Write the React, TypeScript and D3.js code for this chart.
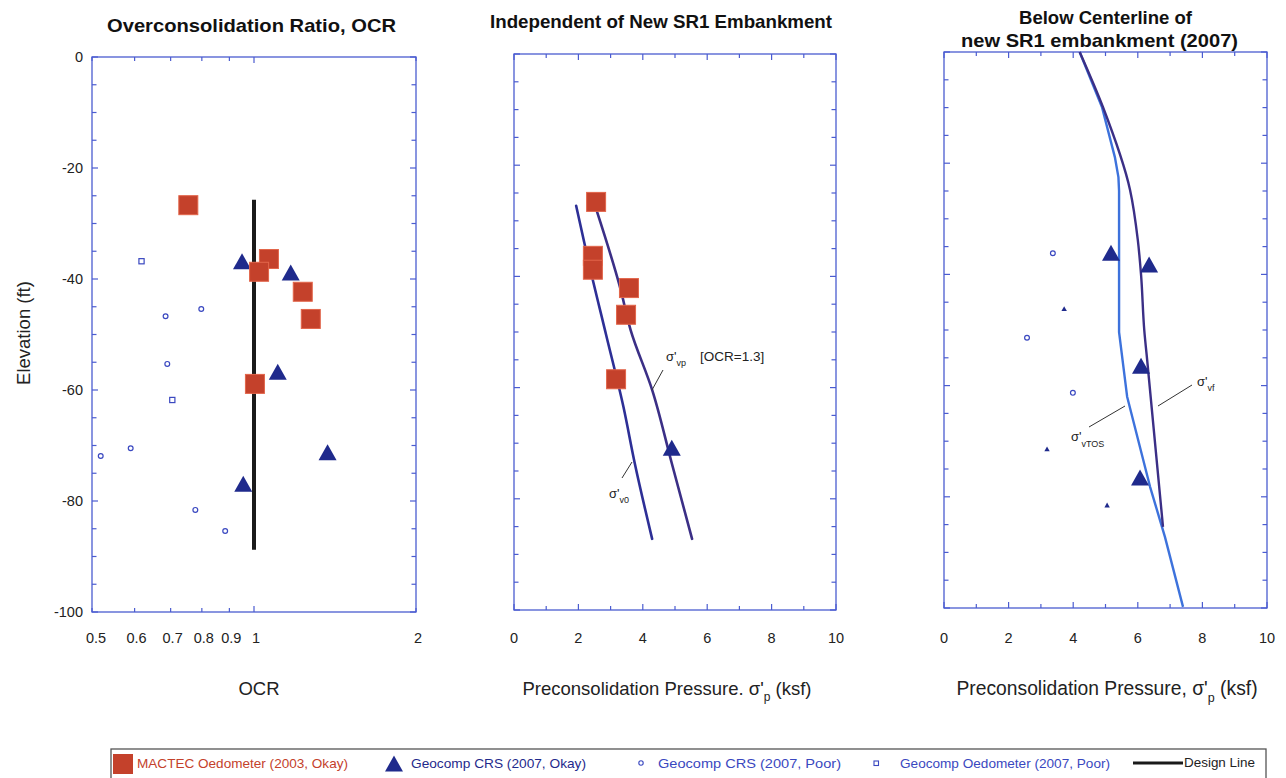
import React from 'react';
import * as d3 from 'd3';

// ---------- axis ticks ----------
const elevTicks = d3.range(0, -101, -5);
const elevLabels = [0, -20, -40, -60, -80, -100];
const ocrTickValues = [0.5, 0.6, 0.7, 0.8, 0.9, 1, 2];
const ocrTickLabels = ['0.5', '0.6', '0.7', '0.8', '0.9', '1', '2'];
const pressureTicks = d3.range(0, 11, 1);
const pressureLabels = [0, 2, 4, 6, 8, 10];

// ---------- Panel 1: OCR ----------
const mactecOcr = [0.755, 1.066, 1.022, 1.232, 1.275, 1.004];
const mactecOcrElev = [-26.7, -36.4, -38.7, -42.3, -47.2, -58.9];
const crsOkayOcr = [0.95, 1.17, 1.107, 1.37, 0.955];
const crsOkayOcrElev = [-36.9, -38.9, -56.8, -71.3, -77];
const crsPoorOcr = [0.685, 0.798, 0.69, 0.59, 0.519, 0.778, 0.884];
const crsPoorOcrElev = [-46.7, -45.4, -55.3, -70.5, -71.9, -81.6, -85.4];
const oedPoorOcr = [0.618, 0.705];
const oedPoorOcrElev = [-36.8, -61.8];
const designOcr = [1, 1];
const designElev = [-25.7, -88.8];

// ---------- Panel 2: independent of embankment ----------
const mactecP = [2.55, 2.45, 2.45, 3.57, 3.48, 3.17];
const mactecPElev = [-26.6, -36.3, -38.8, -42.1, -46.9, -58.5];
const crsOkayP = [4.9];
const crsOkayPElev = [-70.9];
const sv0P = [1.93, 2.3, 2.86, 3.4, 3.75, 4.29];
const sv0Elev = [-27.3, -37, -50.5, -63.5, -73.6, -87.2];
const svpP = [2.58, 3.3, 3.62, 4.29, 4.9, 5.53];
const svpElev = [-28.4, -42.1, -49.6, -60.4, -73.6, -87.2];

// ---------- Panel 3: below centerline ----------
const crsOkay3P = [5.17, 6.35, 6.1, 6.07];
const crsOkay3Elev = [-36.2, -38.3, -56.5, -76.6];
const crsPoor3P = [3.37, 2.57, 3.99];
const crsPoor3Elev = [-36.2, -51.4, -61.3];
const smallTri3P = [3.72, 3.19, 5.05];
const smallTri3Elev = [-46.2, -71.4, -81.5];
const svfP = [4.2, 4.92, 5.76, 6.0, 6.1, 6.2, 6.3, 6.78];
const svfElev = [0, -9.9, -24.8, -33.8, -40, -50, -56, -85.4];
const svtosP = [4.2, 4.89, 5.29, 5.4, 5.42, 5.42, 5.67, 6.38, 6.84, 7.4];
const svtosElev = [0, -9.9, -18.9, -22.5, -25, -50.4, -62, -78.2, -87.2, -99.8];

// ---------- legend ----------
const legendLabels = [
  'MACTEC Oedometer (2003, Okay)',
  'Geocomp CRS (2007, Okay)',
  'Geocomp CRS (2007, Poor)',
  'Geocomp Oedometer (2007, Poor)',
  'Design Line',
];

const FONT = '"Liberation Sans", Arial, sans-serif';
const RED = '#c4412b';
const RED_EDGE = '#e2654a';
const NAVY = '#1f2a8c';
const BLUE = '#3a48c0';
const FRAME = '#4b5cd0';
const LINE_DARK = '#2d2f96';
const LINE_PURPLE = '#3b2f86';
const LINE_LIGHT = '#3d72dc';

const tri = (x: number, y: number, s = 1) =>
  `M${x},${y - 8.5 * s} L${x + 9 * s},${y + 7.5 * s} L${x - 9 * s},${y + 7.5 * s} Z`;

type Box = { x0: number; x1: number; y0: number; y1: number };

function Frame({ b, xs, xticks, majorX, y }: { b: Box; xs: (v: number) => number; xticks: number[]; majorX: (v: number) => boolean; y: d3.ScaleLinear<number, number> }) {
  return (
    <g>
      <rect x={b.x0} y={b.y0} width={b.x1 - b.x0} height={b.y1 - b.y0} fill="none" stroke={FRAME} strokeWidth={1.3} />
      {elevTicks.map((t) => {
        const len = t % 20 === 0 ? 6 : 4.5;
        return (
          <g key={'y' + t}>
            <line x1={b.x0} x2={b.x0 + len} y1={y(t)} y2={y(t)} stroke={FRAME} strokeWidth={1.2} />
            <line x1={b.x1} x2={b.x1 - len} y1={y(t)} y2={y(t)} stroke={FRAME} strokeWidth={1.2} />
          </g>
        );
      })}
      {xticks.map((t) => {
        const len = majorX(t) ? 6 : 4;
        const xx = xs(t);
        return (
          <g key={'x' + t}>
            <line x1={xx} x2={xx} y1={b.y0} y2={b.y0 + len} stroke={FRAME} strokeWidth={1.2} />
            <line x1={xx} x2={xx} y1={b.y1} y2={b.y1 - len} stroke={FRAME} strokeWidth={1.2} />
          </g>
        );
      })}
    </g>
  );
}

const Sq = ({ x, y }: { x: number; y: number }) => (
  <rect x={x - 9.5} y={y - 9.5} width={19} height={19} fill={RED} stroke={RED_EDGE} strokeWidth={1} />
);

export default function App() {
  const b1: Box = { x0: 92, x1: 416, y0: 57, y1: 612 };
  const x1s = d3.scaleLog().domain([0.5, 2]).range([b1.x0, b1.x1]);
  const y1s = d3.scaleLinear().domain([0, -100]).range([b1.y0, b1.y1]);
  const b2: Box = { x0: 514, x1: 836, y0: 54, y1: 610 };
  const x2s = d3.scaleLinear().domain([0, 10]).range([b2.x0, b2.x1]);
  const y2s = d3.scaleLinear().domain([0, -100]).range([b2.y0, b2.y1]);
  const b3: Box = { x0: 944, x1: 1267, y0: 52, y1: 608 };
  const x3s = d3.scaleLinear().domain([0, 10]).range([b3.x0, b3.x1]);
  const y3s = d3.scaleLinear().domain([0, -100]).range([b3.y0, b3.y1]);

  const mkLine = (xs: number[], ys: number[], sx: (v: number) => number, sy: (v: number) => number, curve: d3.CurveFactory = d3.curveLinear) =>
    d3.line<number>().x((d) => sx(d)).y((_, i) => sy(ys[i])).curve(curve)(xs) || '';

  const tickText = { fontFamily: FONT, fontSize: 14.5, fill: '#222' } as const;
  const axisText = { fontFamily: FONT, fontSize: 18.5, fill: '#222' } as const;
  const titleText = { fontFamily: FONT, fontSize: 18.5, fontWeight: 700, fill: '#111', lengthAdjust: 'spacingAndGlyphs' } as const;

  return (
    <svg width={1286} height={778} style={{ position: 'absolute', left: 0, top: 0, background: '#fff' }}>
      <rect x={0} y={0} width={1286} height={778} fill="#fff" />

      {/* Titles */}
      <text x={107} y={32} textLength={289} {...titleText}>Overconsolidation Ratio, OCR</text>
      <text x={490} y={28} textLength={342} {...titleText}>Independent of New SR1 Embankment</text>
      <text x={1019} y={24} textLength={173} {...titleText}>Below Centerline of</text>
      <text x={961} y={47} textLength={277} {...titleText}>new SR1 embankment (2007)</text>

      {/* Y axis label */}
      <text transform="translate(30,333) rotate(-90)" textAnchor="middle" {...axisText}>Elevation (ft)</text>

      {/* Panel 1 */}
      <Frame b={b1} xs={x1s} xticks={ocrTickValues} majorX={(v) => v === 1} y={y1s} />
      {elevLabels.map((t) => (
        <text key={t} x={83} y={y1s(t) + 5} textAnchor="end" {...tickText}>{t}</text>
      ))}
      {ocrTickValues.map((t, i) => (
        <text key={t} x={x1s(t) + (i === 0 ? 4 : 2)} y={643} textAnchor="middle" {...tickText}>{ocrTickLabels[i]}</text>
      ))}
      <text x={259} y={695} textAnchor="middle" {...axisText}>OCR</text>
      <path d={mkLine(designOcr, designElev, x1s, y1s)} stroke="#1a1a1a" strokeWidth={4} fill="none" />
      {crsPoorOcr.map((v, i) => (
        <circle key={'c' + i} cx={x1s(v)} cy={y1s(crsPoorOcrElev[i])} r={2.4} fill="#fff" stroke={BLUE} strokeWidth={1.2} />
      ))}
      {oedPoorOcr.map((v, i) => (
        <rect key={'q' + i} x={x1s(v) - 2.6} y={y1s(oedPoorOcrElev[i]) - 2.6} width={5.2} height={5.2} fill="#fff" stroke={BLUE} strokeWidth={1.2} />
      ))}
      {crsOkayOcr.map((v, i) => (
        <path key={'t' + i} d={tri(x1s(v), y1s(crsOkayOcrElev[i]))} fill={NAVY} />
      ))}
      {mactecOcr.map((v, i) => (
        <Sq key={'s' + i} x={x1s(v)} y={y1s(mactecOcrElev[i])} />
      ))}

      {/* Panel 2 */}
      <Frame b={b2} xs={x2s} xticks={pressureTicks} majorX={(v) => v % 2 === 0} y={y2s} />
      {pressureLabels.map((t) => (
        <text key={t} x={x2s(t)} y={643} textAnchor="middle" {...tickText}>{t}</text>
      ))}
      <text x={667} y={695} textAnchor="middle" {...axisText}>
        Preconsolidation Pressure. σ'<tspan fontSize={12} dy={6}>p</tspan><tspan dy={-6}> (ksf)</tspan>
      </text>
      <path d={mkLine(sv0P, sv0Elev, x2s, y2s, d3.curveMonotoneY)} stroke={LINE_DARK} strokeWidth={2.6} fill="none" strokeLinecap="round" />
      <path d={mkLine(svpP, svpElev, x2s, y2s, d3.curveMonotoneY)} stroke={LINE_PURPLE} strokeWidth={2.6} fill="none" strokeLinecap="round" />
      {mactecP.map((v, i) => (
        <Sq key={'s2' + i} x={x2s(v)} y={y2s(mactecPElev[i])} />
      ))}
      {crsOkayP.map((v, i) => (
        <path key={'t2' + i} d={tri(x2s(v), y2s(crsOkayPElev[i]))} fill={NAVY} />
      ))}
      <line x1={663} y1={370} x2={652} y2={390} stroke="#333" strokeWidth={1} />
      <text x={666} y={361} fontFamily={FONT} fontSize={13} fill="#222">σ'<tspan fontSize={9} dy={5}>vp</tspan></text>
      <text x={700} y={361} fontFamily={FONT} fontSize={13.5} fill="#222">[OCR=1.3]</text>
      <line x1={622} y1={478} x2={632} y2={462} stroke="#333" strokeWidth={1} />
      <text x={609} y={498} fontFamily={FONT} fontSize={13} fill="#222">σ'<tspan fontSize={9} dy={5}>v0</tspan></text>

      {/* Panel 3 */}
      <Frame b={b3} xs={x3s} xticks={pressureTicks} majorX={(v) => v % 2 === 0} y={y3s} />
      {pressureLabels.map((t) => (
        <text key={t} x={x3s(t)} y={643} textAnchor="middle" {...tickText}>{t}</text>
      ))}
      <text x={1107} y={695} textAnchor="middle" {...axisText} fontSize={19.3}>
        Preconsolidation Pressure, σ'<tspan fontSize={12.5} dy={7}>p</tspan><tspan dy={-7}> (ksf)</tspan>
      </text>
      <path d={mkLine(svtosP, svtosElev, x3s, y3s)} stroke={LINE_LIGHT} strokeWidth={2.4} fill="none" strokeLinejoin="round" />
      <path d={mkLine(svfP, svfElev, x3s, y3s, d3.curveMonotoneY)} stroke={LINE_PURPLE} strokeWidth={2.4} fill="none" />
      {crsPoor3P.map((v, i) => (
        <circle key={'c3' + i} cx={x3s(v)} cy={y3s(crsPoor3Elev[i])} r={2.4} fill="#fff" stroke={BLUE} strokeWidth={1.2} />
      ))}
      {smallTri3P.map((v, i) => (
        <path key={'st3' + i} d={tri(x3s(v), y3s(smallTri3Elev[i]), 0.3)} fill={NAVY} />
      ))}
      {crsOkay3P.map((v, i) => (
        <path key={'t3' + i} d={tri(x3s(v), y3s(crsOkay3Elev[i]))} fill={NAVY} />
      ))}
      <line x1={1192} y1={385} x2={1158} y2={406} stroke="#333" strokeWidth={1} />
      <text x={1197} y={386} fontFamily={FONT} fontSize={13} fill="#222">σ'<tspan fontSize={9} dy={5}>vf</tspan></text>
      <line x1={1089} y1={427} x2={1125} y2={406} stroke="#333" strokeWidth={1} />
      <text x={1071} y={441} fontFamily={FONT} fontSize={13} fill="#222">σ'<tspan fontSize={9} dy={6}>vTOS</tspan></text>

      {/* Legend */}
      <rect x={111} y={749} width={1155} height={40} fill="#fff" stroke="#555" strokeWidth={1.3} />
      <rect x={113} y={754} width={20} height={20} fill={RED} />
      <text x={137} y={768} fontFamily={FONT} fontSize={13.5} fill={RED} textLength={211} lengthAdjust="spacingAndGlyphs">{legendLabels[0]}</text>
      <path d={tri(394, 764)} fill={NAVY} />
      <text x={411} y={768} fontFamily={FONT} fontSize={13.5} fill={NAVY} textLength={175} lengthAdjust="spacingAndGlyphs">{legendLabels[1]}</text>
      <circle cx={641} cy={763} r={2.2} fill="#fff" stroke={BLUE} strokeWidth={1.1} />
      <text x={658} y={768} fontFamily={FONT} fontSize={13.5} fill={BLUE} textLength={183} lengthAdjust="spacingAndGlyphs">{legendLabels[2]}</text>
      <rect x={874} y={761} width={4.5} height={4.5} fill="#fff" stroke={BLUE} strokeWidth={1.1} />
      <text x={900} y={768} fontFamily={FONT} fontSize={13.5} fill={BLUE} textLength={210} lengthAdjust="spacingAndGlyphs">{legendLabels[3]}</text>
      <line x1={1133} y1={763} x2={1183} y2={763} stroke="#1a1a1a" strokeWidth={3.2} />
      <text x={1184} y={767} fontFamily={FONT} fontSize={13.5} fill="#222" textLength={71} lengthAdjust="spacingAndGlyphs">{legendLabels[4]}</text>
    </svg>
  );
}
